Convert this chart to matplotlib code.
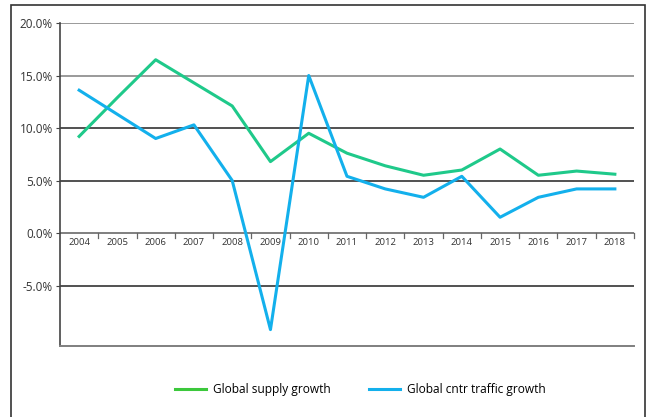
import matplotlib
matplotlib.use("Agg")
import matplotlib.pyplot as plt
from matplotlib.lines import Line2D
from matplotlib.patches import Rectangle

years = ["2004", "2005", "2006", "2007", "2008", "2009", "2010", "2011",
         "2012", "2013", "2014", "2015", "2016", "2017", "2018"]
supply_growth = [9.2, 12.9, 16.5, 14.3, 12.1, 6.8, 9.5, 7.6, 6.4, 5.5, 6.0, 8.0, 5.5, 5.9, 5.6]
traffic_growth = [13.6, 11.3, 9.0, 10.3, 5.0, -9.2, 15.0, 5.4, 4.2, 3.4, 5.4, 1.5, 3.4, 4.2, 4.2]
y_ticks = [20, 15, 10, 5, 0, -5]
y_tick_labels = ["20.0%", "15.0%", "10.0%", "5.0%", "0.0%", "-5.0%"]

W, H = 647, 417
plt.rcParams['font.family'] = ['Open Sans', 'DejaVu Sans']
fig = plt.figure(figsize=(W / 100, H / 100), dpi=100)
fig.patch.set_facecolor("white")

# outer frame
fig.patches.append(Rectangle((11 / W, -0.05), (645 - 11) / W, (H - 5) / H + 0.05,
                             transform=fig.transFigure, fill=False,
                             edgecolor="#333333", linewidth=1.2))

ax = fig.add_axes([60 / W, 71 / H, 574 / W, 323 / H])
x = list(range(len(years)))
ax.set_xlim(-0.5, len(years) - 0.5)
ax.set_ylim(-10.76, 20)

for v in y_ticks:
    if v == 0:
        continue
    col = "#7f7f7f" if v >= 15 else "#222222"
    ax.axhline(v, color=col, linewidth=1.1, zorder=1)
ax.axhline(0, color="#7f7f7f", linewidth=1.4, zorder=1)

ax.plot(x, supply_growth, color="#1fc98a", linewidth=2.2, zorder=3)
ax.plot(x, traffic_growth, color="#13b0ec", linewidth=2.2, zorder=3)

for s in ["top", "right"]:
    ax.spines[s].set_visible(False)
ax.spines["left"].set_color("#444444")
ax.spines["left"].set_linewidth(1.2)
ax.spines["bottom"].set_color("#7f7f7f")
ax.spines["bottom"].set_linewidth(1.4)

ax.set_yticks(y_ticks)
ax.set_yticklabels(y_tick_labels, fontsize=8.5, color="#333333")
ax.tick_params(axis="y", length=3, color="#444444", pad=2)
ax.set_xticks([])

# category separators and labels along the zero line
for i in range(len(years)):
    ax.plot([i + 0.5, i + 0.5], [0, -0.5], color="#666666", linewidth=0.9,
            zorder=2, clip_on=False)
    ax.text(i, -0.45, years[i], ha="center", va="top", fontsize=6.8,
            color="#333333")

handles = [Line2D([], [], color="#3cc83c", linewidth=2.2),
           Line2D([], [], color="#13b0ec", linewidth=2.2)]
fig.legend(handles, ["Global supply growth", "Global cntr traffic growth"],
           loc="center", bbox_to_anchor=(0.557, (H - 390) / H), ncol=2,
           frameon=False, fontsize=8.6, handlelength=2.6, columnspacing=3.2,
           handletextpad=0.6)

fig.savefig("out.png", dpi=100)
